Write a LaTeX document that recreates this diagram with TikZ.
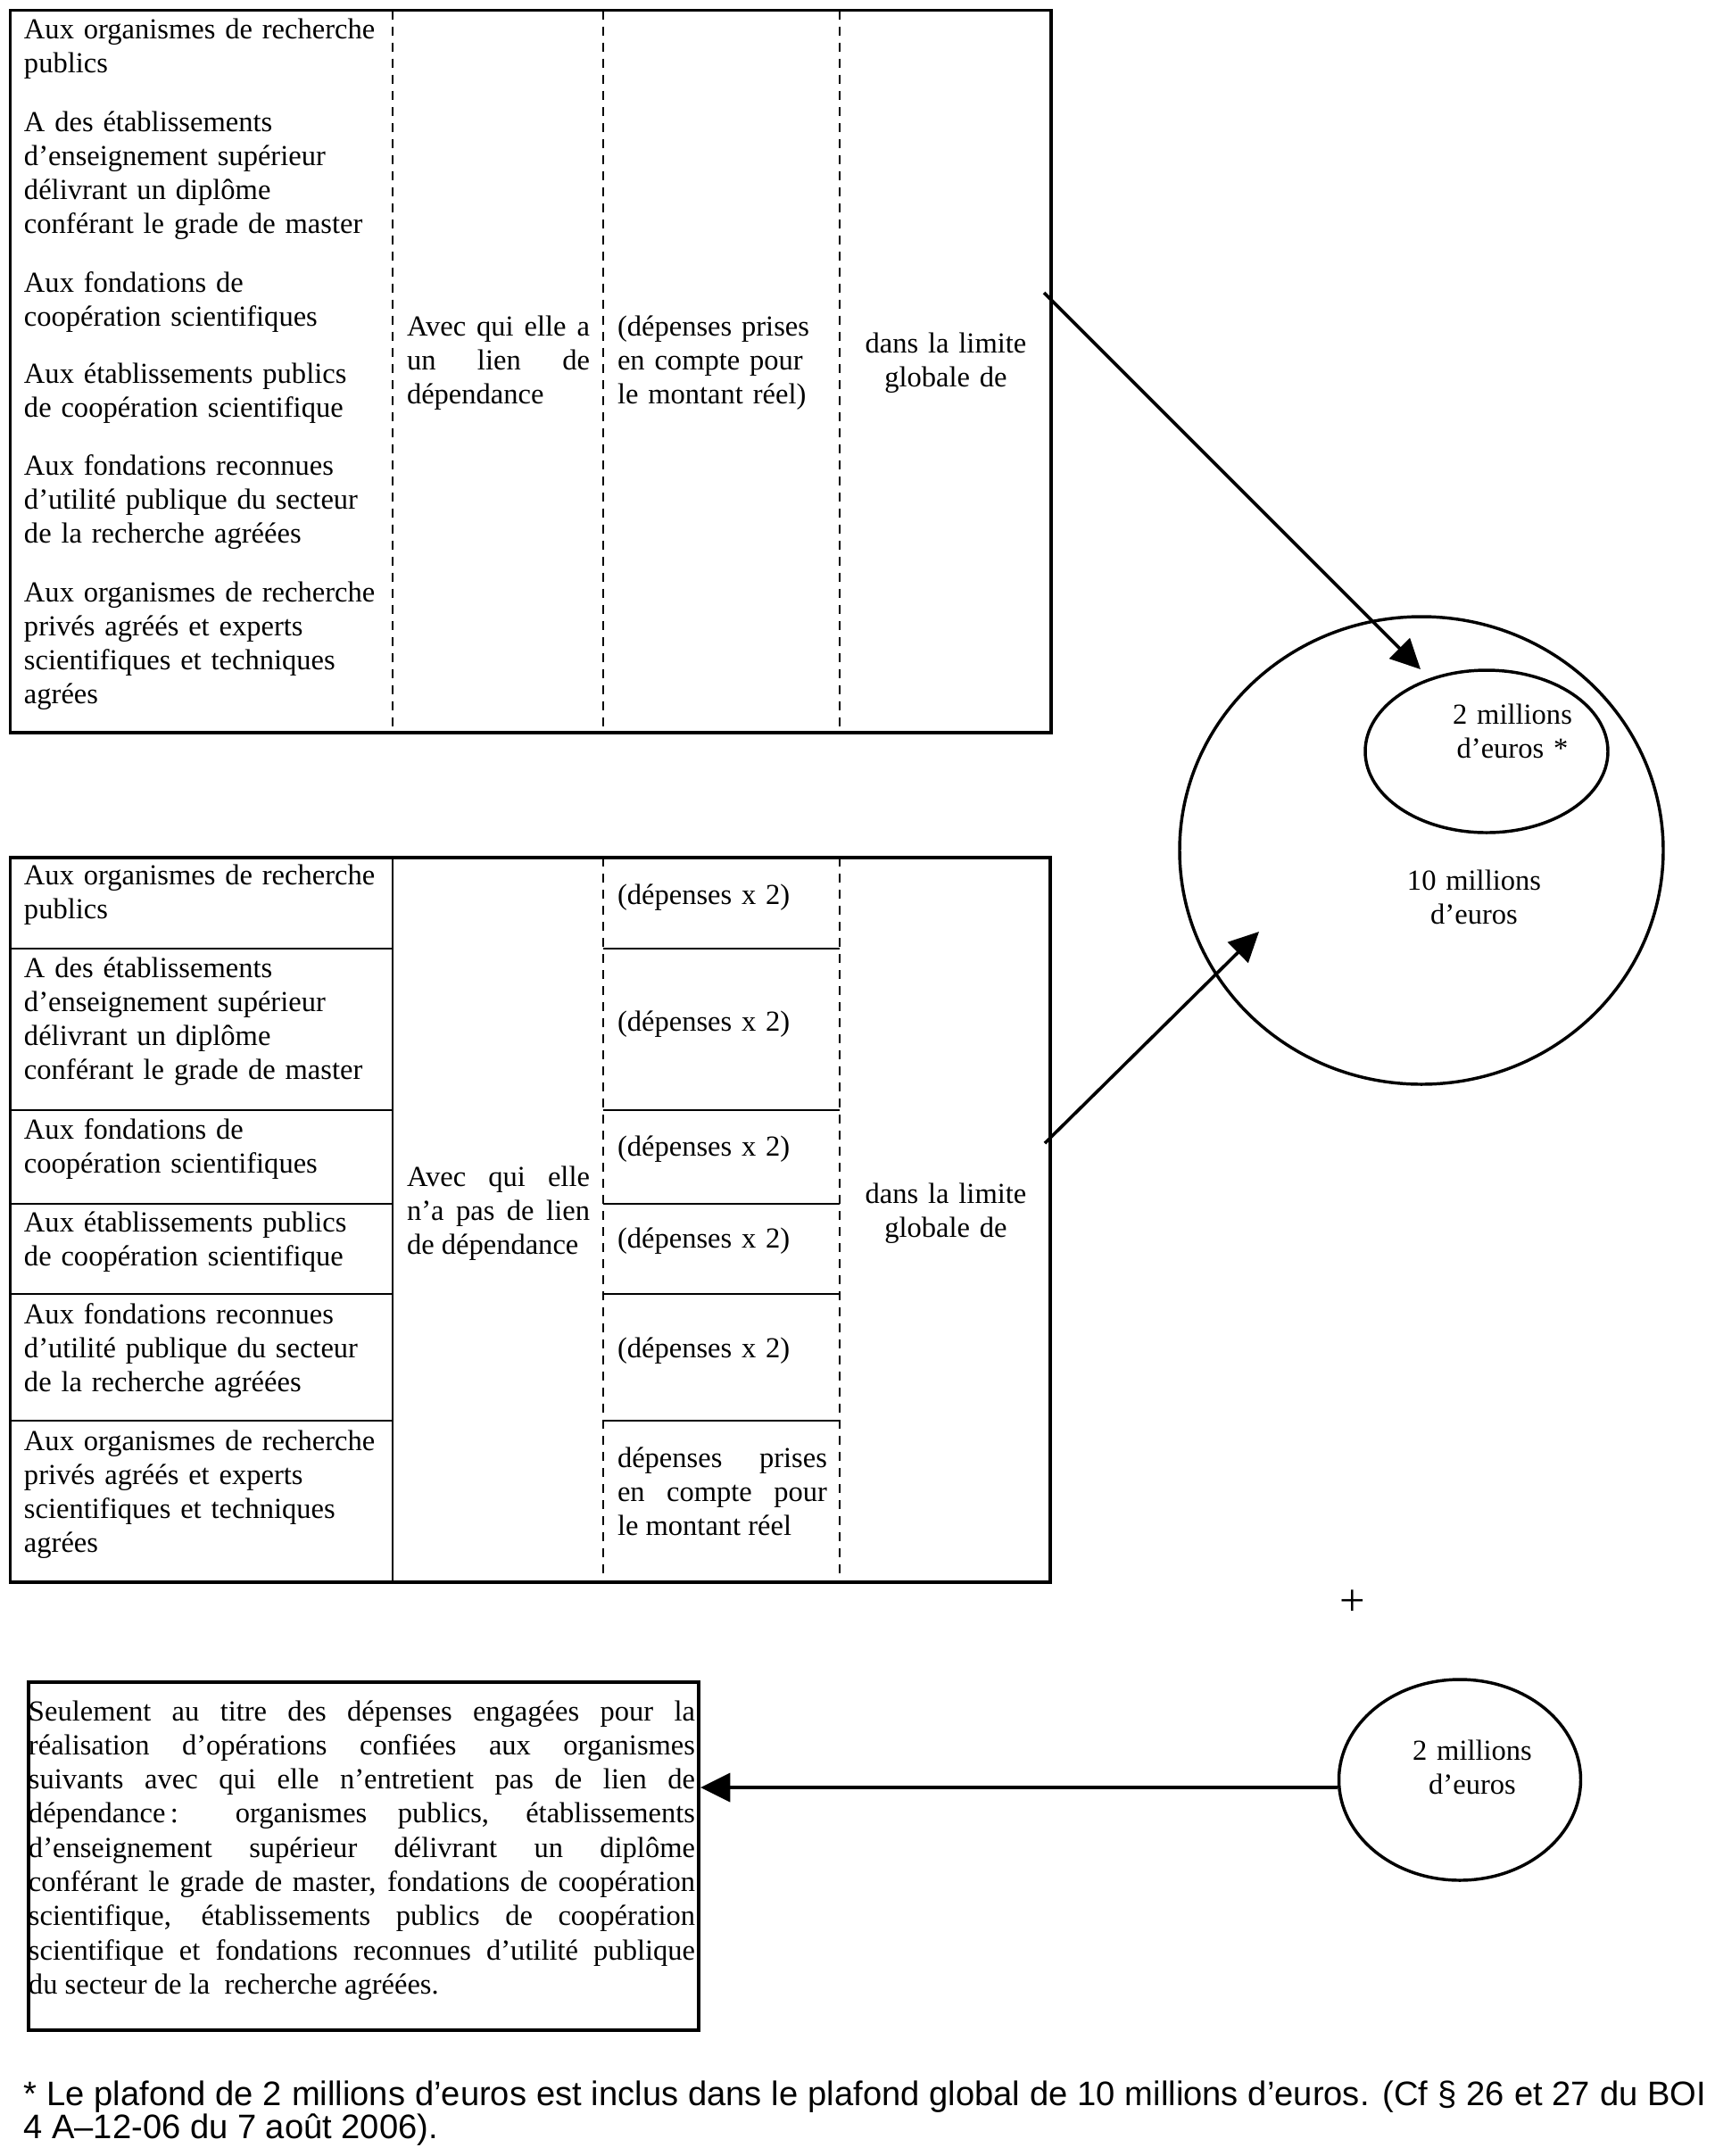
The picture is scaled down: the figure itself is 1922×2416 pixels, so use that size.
\documentclass[tikz,border=0pt]{standalone}
\usepackage{fontspec}
\setmainfont{Liberation Serif}
\newfontfamily\arialfont{Liberation Sans}
\usetikzlibrary{arrows.meta,shapes.geometric}
\hyphenpenalty=10000
\exhyphenpenalty=10000
\begin{document}
\begin{tikzpicture}[x=0.375pt,y=-0.375pt,
  txt/.style={inner sep=0pt, outer sep=0pt, font=\fontsize{12.2}{14.36}\selectfont},
  lcell/.style={txt, anchor=base west, text width=160pt, align=left},
  jcell/.style={txt, anchor=base west, align=justify},
  ccell/.style={txt, anchor=base, text width=100pt, align=center},
  tframe/.style={line width=1.3pt},
  solidsep/.style={line width=1.1pt},
  dsep/.style={line width=0.7pt, dash pattern=on 3.75pt off 3pt},
  arr/.style={line width=1.35pt, -{Triangle[length=12.5pt,width=12pt]}},
  ring/.style={draw, ellipse, line width=1.3pt, inner sep=0pt},
]
\useasboundingbox (0,0) rectangle (1922,2416);

% ---------- top table ----------
\draw[tframe] (11.5,11.5) rectangle (1178,821);
\foreach \x in {440,676,941} \draw[dsep] (\x,11.5) -- (\x,821);

\node[lcell] (ta1) at (27,43) {Aux organismes de recherche\\publics};
\node[lcell] (ta2) at (27,147) {A des établissements\\d’enseignement supérieur\\délivrant un diplôme\\conférant le grade de master};
\node[lcell] (ta3) at (27,327) {Aux fondations de\\coopération scientifiques};
\node[lcell] (ta4) at (27,429) {Aux établissements publics\\de coopération scientifique};
\node[lcell] (ta5) at (27,532) {Aux fondations reconnues\\d’utilité publique du secteur\\de la recherche agréées};
\node[lcell] (ta6) at (27,674) {Aux organismes de recherche\\privés agréés et experts\\scientifiques et techniques\\agrées};

\node[jcell, text width=205*0.375pt] (tb) at (456,376) {Avec qui elle a\linebreak un lien de\linebreak dépendance};
\node[lcell, text width=240*0.375pt] (tc) at (692,376) {(dépenses prises\\en compte pour\\le montant réel)};
\node[ccell] (td) at (1060,395) {dans la limite\\globale de};

% ---------- middle table ----------
\draw[tframe] (11.5,961) rectangle (1177,1773);
\draw[solidsep] (440,961) -- (440,1773);
\foreach \x in {676,941} \draw[dsep] (\x,961) -- (\x,1773);
\foreach \y in {1063,1244,1349,1450,1592} {
  \draw[solidsep] (11.5,\y) -- (440,\y);
  \draw[solidsep] (676,\y) -- (941,\y);
}

\node[lcell] (ma1) at (27,991) {Aux organismes de recherche\\publics};
\node[lcell] (ma2) at (27,1095) {A des établissements\\d’enseignement supérieur\\délivrant un diplôme\\conférant le grade de master};
\node[lcell] (ma3) at (27,1276) {Aux fondations de\\coopération scientifiques};
\node[lcell] (ma4) at (27,1380) {Aux établissements publics\\de coopération scientifique};
\node[lcell] (ma5) at (27,1483) {Aux fondations reconnues\\d’utilité publique du secteur\\de la recherche agréées};
\node[lcell] (ma6) at (27,1625) {Aux organismes de recherche\\privés agréés et experts\\scientifiques et techniques\\agrées};

\node[jcell, text width=205*0.375pt] (mb) at (456,1329) {Avec qui elle\linebreak n’a pas de lien\linebreak de dépendance};

\node[lcell] (mc1) at (692,1013) {(dépenses x 2)};
\node[lcell] (mc2) at (692,1155) {(dépenses x 2)};
\node[lcell] (mc3) at (692,1295) {(dépenses x 2)};
\node[lcell] (mc4) at (692,1398) {(dépenses x 2)};
\node[lcell] (mc5) at (692,1521) {(dépenses x 2)};
\node[jcell, text width=235*0.375pt] (mc6) at (692,1644) {dépenses prises\linebreak en compte pour\linebreak le montant réel};

\node[ccell] (md) at (1060,1348) {dans la limite\\globale de};

% ---------- ellipses ----------
\node[ring, minimum width=542*0.375pt, minimum height=524*0.375pt] (big) at (1593,953) {};
\node[ring, minimum width=272*0.375pt, minimum height=182*0.375pt] (small) at (1666,842) {};
\node[ccell] (smallt) at (1695,811) {2 millions\\d’euros *};
\node[ccell] (bigt) at (1652,997) {10 millions\\d’euros};

\node[ring, minimum width=271*0.375pt, minimum height=225*0.375pt] (e3) at (1636,1994.5) {};
\node[ccell] (e3t) at (1650,1972) {2 millions\\d’euros};

\node[inner sep=0pt, font=\fontsize{19}{20}\selectfont] (plus) at (1515.5,1796.5) {+};

% ---------- bottom box ----------
\node[draw, line width=1.5pt, inner sep=0pt, minimum width=751*0.375pt, minimum height=390*0.375pt, anchor=north west] (box) at (30,1883) {};
\node[jcell, text width=747*0.375pt] (boxt) at (32,1928) {Seulement au titre des dépenses engagées pour la\linebreak
réalisation d’opérations confiées aux organismes\linebreak
suivants avec qui elle n’entretient pas de lien de\linebreak
dépendance\,: organismes publics, établissements\linebreak
d’enseignement supérieur délivrant un diplôme\linebreak
conférant le grade de master, fondations de coopération\linebreak
scientifique, établissements publics de coopération\linebreak
scientifique et fondations reconnues d’utilité publique\linebreak
du secteur de la\ \ recherche agréées.};

% ---------- arrows ----------
\coordinate (a1s) at (1170,328);
\coordinate (a1e) at (1592,750);
\draw[arr] (a1s) -- (a1e);
\coordinate (a2s) at (1171,1281);
\coordinate (a2e) at (1411,1044);
\draw[arr] (a2s) -- (a2e);
\coordinate (a3s) at ([yshift=-3.2pt]e3.west);
\draw[arr] (a3s) -- (a3s -| box.east);

% ---------- footnote ----------
\node[anchor=base west, inner sep=0pt, text width=1886*0.375pt, align=justify, font=\arialfont\fontsize{14.3}{13.9}\selectfont] (fn) at (26,2359) {* Le plafond de 2 millions d’euros est inclus dans le plafond global de 10 millions d’euros. (Cf § 26 et 27 du BOI\linebreak 4 A–12-06 du 7 août 2006).};
\end{tikzpicture}
\end{document}
